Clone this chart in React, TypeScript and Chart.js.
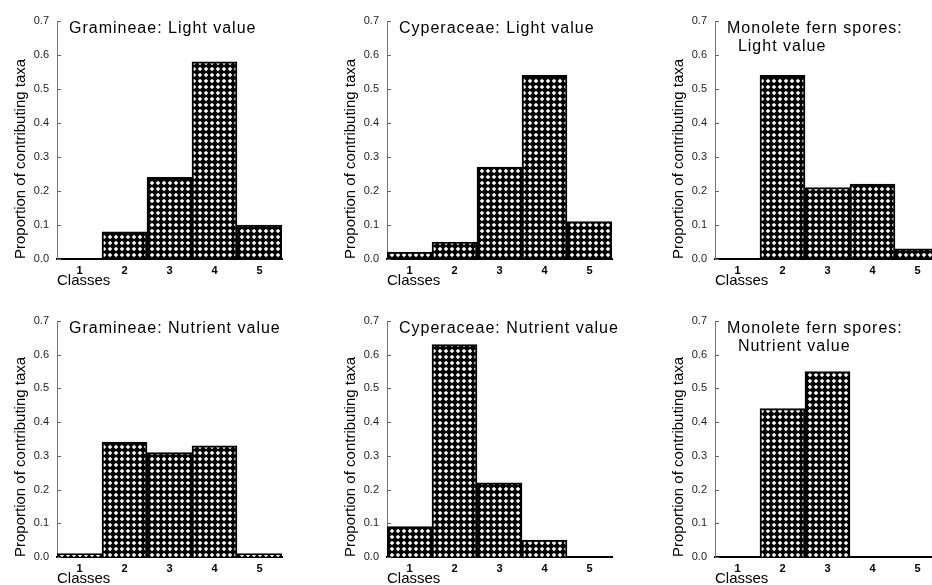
import React, { useEffect, useRef } from "react";
import { Chart, registerables } from "chart.js";

Chart.register(...registerables);

// ---------- data ----------
const classes = ["1", "2", "3", "4", "5"];
const gramineaeLight = [0, 0.08, 0.24, 0.58, 0.1];
const cyperaceaeLight = [0.02, 0.05, 0.27, 0.54, 0.11];
const fernLight = [0, 0.54, 0.21, 0.22, 0.03];
const gramineaeNutrient = [0.01, 0.34, 0.31, 0.33, 0.01];
const cyperaceaeNutrient = [0.09, 0.63, 0.22, 0.05, 0];
const fernNutrient = [0, 0.44, 0.55, 0, 0];

const yMin = 0;
const yMax = 0.7;
const yStep = 0.1;
const yTitle = "Proportion of contributing taxa";
const xTitle = "Classes";

const titleGL = ["Gramineae: Light value"];
const titleCL = ["Cyperaceae: Light value"];
const titleFL = ["Monolete fern spores:", "  Light value"];
const titleGN = ["Gramineae: Nutrient value"];
const titleCN = ["Cyperaceae: Nutrient value"];
const titleFN = ["Monolete fern spores:", "  Nutrient value"];

// ---------- layout ----------
const FONT = "'Liberation Sans', Arial, Helvetica, sans-serif";
const Y_AXIS_W = 58;
const X_AXIS_H = 33;
const PAD_TOP = 21;
const PAD_RIGHT = 18;
const AREA_W = 225;
const colLeft = [57, 387, 715];
const rowTop = [0, 300];
const rowHeight = [292, 290];

type Panel = { values: number[]; title: string[]; col: number; row: number };
const panels: Panel[] = [
  { values: gramineaeLight, title: titleGL, col: 0, row: 0 },
  { values: cyperaceaeLight, title: titleCL, col: 1, row: 0 },
  { values: fernLight, title: titleFL, col: 2, row: 0 },
  { values: gramineaeNutrient, title: titleGN, col: 0, row: 1 },
  { values: cyperaceaeNutrient, title: titleCN, col: 1, row: 1 },
  { values: fernNutrient, title: titleFN, col: 2, row: 1 },
];

function makePattern(): CanvasPattern | string {
  const s = 6;
  const tile = document.createElement("canvas");
  tile.width = s;
  tile.height = s;
  const c = tile.getContext("2d");
  if (!c) return "#000";
  c.fillStyle = "#000";
  c.fillRect(0, 0, s, s);
  c.fillStyle = "#fff";
  const h = s / 2;
  const r = 2.3;
  c.beginPath();
  c.moveTo(h, h - r);
  c.lineTo(h + r, h);
  c.lineTo(h, h + r);
  c.lineTo(h - r, h);
  c.closePath();
  c.fill();
  const p = c.createPattern(tile, "repeat");
  return p || "#000";
}

const innerTitlePlugin = {
  id: "innerTitle",
  afterDraw(chart: any) {
    const lines: string[] = chart.options.plugins.innerTitle?.lines || [];
    const { ctx, chartArea } = chart;
    ctx.save();
    ctx.font = `16px ${FONT}`;
    try {
      (ctx as any).letterSpacing = "1px";
    } catch (e) {}
    ctx.fillStyle = "#000";
    ctx.textBaseline = "alphabetic";
    ctx.textAlign = "left";
    lines.forEach((ln, i) => {
      ctx.fillText(ln, chartArea.left + 12, chartArea.top + 12 + i * 18);
    });
    ctx.restore();
  },
};

const yTickMarksPlugin = {
  id: "yTickMarks",
  afterDraw(chart: any) {
    const { ctx, chartArea } = chart;
    const ys = chart.scales.y;
    ctx.save();
    ctx.strokeStyle = "#666";
    ctx.lineWidth = 1;
    ys.ticks.forEach((t: any) => {
      const y = Math.round(ys.getPixelForValue(t.value)) + 0.5;
      ctx.beginPath();
      ctx.moveTo(chartArea.left, y);
      ctx.lineTo(chartArea.left + 4, y);
      ctx.stroke();
    });
    ctx.restore();
  },
};

function PanelChart({ panel }: { panel: Panel }) {
  const ref = useRef<HTMLCanvasElement | null>(null);
  const width = Y_AXIS_W + AREA_W + PAD_RIGHT;
  const height = rowHeight[panel.row];
  useEffect(() => {
    if (!ref.current) return;
    const pattern = makePattern();
    const chart = new Chart(ref.current, {
      type: "bar",
      data: {
        labels: classes,
        datasets: [
          {
            data: panel.values,
            backgroundColor: pattern as any,
            borderColor: "#000",
            borderWidth: 2,
            categoryPercentage: 1,
            barPercentage: 1,
          },
        ],
      },
      options: {
        responsive: false,
        animation: false,
        devicePixelRatio: 1,
        layout: { padding: { top: PAD_TOP, right: PAD_RIGHT, left: 0, bottom: 0 } },
        plugins: {
          legend: { display: false },
          tooltip: { enabled: false },
          title: { display: false },
          innerTitle: { lines: panel.title },
        } as any,
        scales: {
          x: {
            grid: { display: false, drawTicks: false },
            border: { display: true, color: "#000", width: 2 },
            ticks: {
              padding: 5,
              color: "#000",
              font: { family: FONT, size: 11, weight: "bold" },
            },
            title: {
              display: true,
              text: xTitle,
              align: "start",
              color: "#000",
              font: { family: FONT, size: 15 },
              padding: { top: 0, bottom: 2 },
            },
            afterFit(scale: any) {
              scale.height = X_AXIS_H;
            },
          },
          y: {
            min: yMin,
            max: yMax,
            grid: { display: false, drawTicks: false },
            border: { display: true, color: "#777", width: 1 },
            ticks: {
              stepSize: yStep,
              padding: 8,
              color: "#222",
              font: { family: FONT, size: 11 },
              callback: (v: any) => Number(v).toFixed(1),
            },
            title: {
              display: true,
              text: yTitle,
              align: "start",
              color: "#000",
              font: { family: FONT, size: 15 },
              padding: { top: 13, bottom: 0 },
            },
            afterFit(scale: any) {
              scale.width = Y_AXIS_W;
            },
          },
        },
      },
      plugins: [innerTitlePlugin, yTickMarksPlugin],
    });
    return () => chart.destroy();
  }, [panel]);
  return (
    <canvas
      ref={ref}
      width={width}
      height={height}
      style={{
        position: "absolute",
        left: colLeft[panel.col] - Y_AXIS_W,
        top: rowTop[panel.row],
        width,
        height,
      }}
    />
  );
}

export default function App() {
  return (
    <div
      style={{
        position: "fixed",
        left: 0,
        top: 0,
        width: 932,
        height: 585,
        overflow: "hidden",
        background: "#fff",
      }}
    >
      {panels.map((p, i) => (
        <PanelChart key={i} panel={p} />
      ))}
    </div>
  );
}
